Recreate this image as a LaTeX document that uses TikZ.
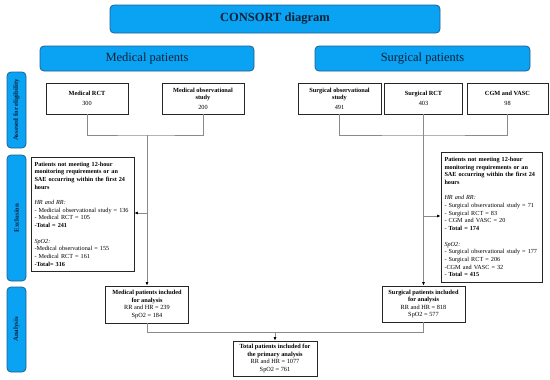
\documentclass[tikz,border=0pt]{standalone}
\usepackage{fontspec}
\setmainfont{Liberation Serif}
\usetikzlibrary{arrows.meta}
\definecolor{tabblue}{HTML}{0AA2F2}
\definecolor{tabedge}{HTML}{22608F}
\definecolor{navy}{HTML}{0E2238}
\definecolor{connc}{HTML}{8A8A8A}
\begin{document}
\begin{tikzpicture}[x=1pt,y=-1pt,
  bluebox/.style={draw=tabedge, fill=tabblue, rounded corners=4pt, line width=0.8pt, text=navy, inner sep=0pt},
  tab/.style={bluebox, rotate=90, font=\rmfamily\fontsize{6.8}{8}\selectfont\bfseries},
  whitebox/.style={draw=black!85, line width=0.8pt, fill=white, align=center, inner sep=1pt, font=\rmfamily\fontsize{6.3}{7.4}\selectfont},
  exclbox/.style={draw=black!85, line width=0.8pt, fill=white, align=left, inner xsep=3.5pt, inner ysep=2pt, font=\rmfamily\fontsize{6.2}{7.7}\selectfont},
  conn/.style={draw=connc, line width=0.7pt},
  arrow/.style={conn, -{Latex[length=3.5pt,width=3pt,color=black]}},
]
\useasboundingbox (0,0) rectangle (550,380);

% title and group headers
\node[bluebox, minimum width=330, minimum height=28, font=\rmfamily\fontsize{12.5}{14}\selectfont\bfseries] (title) at (275,19) {CONSORT diagram};
\node[bluebox, minimum width=214, minimum height=25, font=\rmfamily\fontsize{12.5}{14}\selectfont] (medpat) at (147,58.5) {Medical patients};
\node[bluebox, minimum width=215, minimum height=25, font=\rmfamily\fontsize{12.5}{14}\selectfont] (surgpat) at (422.5,58.5) {Surgical patients};

% side tabs
\node[tab, minimum width=76, minimum height=19] (tabA) at (16.5,110) {Assesed for eligibility};
\node[tab, minimum width=126, minimum height=19] (tabE) at (16.5,218) {Exclusion};
\node[tab, minimum width=85, minimum height=19] (tabN) at (16.5,329.5) {Analysis};

% eligibility boxes
\node[whitebox, minimum width=82, minimum height=31] (medrct) at (87,98.5) {\textbf{Medical RCT}\\[2pt]300};
\node[whitebox, minimum width=82, minimum height=31] (medobs) at (203,98.5) {\textbf{Medical observational}\\\textbf{study}\\[2pt]200};
\node[whitebox, minimum width=83, minimum height=31] (surgobs) at (339.5,98.5) {\textbf{Surgical observational}\\\textbf{study}\\[2pt]491};
\node[whitebox, minimum width=78, minimum height=31] (surgrct) at (423.5,98.5) {\textbf{Surgical RCT}\\[2pt]403};
\node[whitebox, minimum width=81, minimum height=31] (cgm) at (507.5,98.5) {\textbf{CGM and VASC}\\[2pt]98};

% exclusion boxes
\node[exclbox, text width=96, minimum height=114] (exclL) at (82.5,214) {%
\mbox{\textbf{Patients not meeting 12-hour}}\\
\mbox{\textbf{monitoring requirements or an}}\\
\mbox{\textbf{SAE occurring within the first 24}}\\
\textbf{hours}\\[7.7pt]
\textit{HR and RR:}\\
\mbox{- Medicial observational study = 136}\\
- Medical RCT = 105\\
\textbf{-Total = 241}\\[7.7pt]
\textit{SpO2:}\\
\mbox{-Medical observational = 155}\\
- Medical RCT = 161\\
\textbf{-Total= 316}};
\node[exclbox, text width=94, minimum height=130] (exclR) at (491.5,217) {%
\mbox{\textbf{Patients not meeting 12-hour}}\\
\mbox{\textbf{monitoring requirements or an}}\\
\mbox{\textbf{SAE occurring within the first 24}}\\
\textbf{hours}\\[7.7pt]
\textit{HR and RR:}\\
\mbox{- Surgical observational study = 71}\\
- Surgical RCT = 83\\
- CGM and VASC = 20\\
- \textbf{Total = 174}\\[7.7pt]
\textit{SpO2:}\\
\mbox{- Surgical observational study = 177}\\
- Surgical RCT = 206\\
-CGM and VASC = 32\\
- \textbf{Total = 415}};

% analysis boxes
\node[whitebox, minimum width=83, minimum height=37] (medinc) at (147,304.5) {\textbf{Medical patients included}\\\textbf{for analysis}\\RR and HR = 239\\SpO2 = 184};
\node[whitebox, minimum width=83, minimum height=36] (surginc) at (423.5,304) {\textbf{Surgical patients included}\\\textbf{for analysis}\\RR and HR = 818\\SpO2 = 577};
\node[whitebox, minimum width=84, minimum height=35] (total) at (275,358.5) {\textbf{Total patients included for}\\\textbf{the primary analysis}\\RR and HR = 1077\\SpO2 = 761};

% junction points
\coordinate (mj) at (147,135);
\coordinate (sj) at (423.5,135);
\coordinate (ml) at (147,213);
\coordinate (sl) at (423.5,216);
\coordinate (bj) at (275,332);

% connectors
\draw[conn] (medrct.south) |- (mj) -| (medobs.south);
\draw[arrow] (mj) -- (mj |- medinc.north);
\draw[arrow] (ml) -- (ml -| exclL.east);
\draw[conn] (surgobs.south) |- (sj) -| (cgm.south);
\draw[conn] (surgrct.south) -- (sj);
\draw[arrow] (sj) -- (surginc.north);
\draw[arrow] (sl) -- (sl -| exclR.west);
\draw[conn] (medinc.south) |- (bj);
\draw[conn] (surginc.south) |- (bj);
\draw[arrow] (bj) -- (total.north);
\end{tikzpicture}
\end{document}
